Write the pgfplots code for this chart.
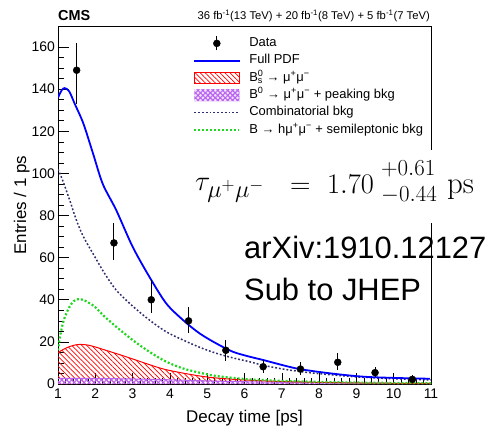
\RequirePackage{fix-cm}
\documentclass[border=0pt]{standalone}
\usepackage[no-math]{fontspec}
\setmainfont{Liberation Sans}
\usepackage{pgfplots}
\pgfplotsset{compat=1.18}
\usetikzlibrary{patterns,patterns.meta}
\DeclareMathSizes{28.5}{28.5}{24.5}{18}
\DeclareMathSizes{23}{23}{17}{13}
\definecolor{pdfblue}{RGB}{0,0,255}
\definecolor{navyc}{RGB}{45,45,110}
\definecolor{greenc}{RGB}{30,215,30}
\definecolor{magc}{RGB}{185,100,240}
\begin{document}
\begin{tikzpicture}[x=1bp,y=1bp]
\path[use as bounding box] (0,0) rectangle (493,427);
\begin{axis}[
  at={(58bp,43bp)}, anchor=south west, scale only axis,
  width=373bp, height=358bp,
  xmin=1, xmax=11, ymin=0, ymax=170,
  xtick={1,2,...,11}, ytick={0,20,...,160},
  minor x tick num=4, minor y tick num=3,
  tick align=inside, xtick pos=left, ytick pos=left,
  major tick length=11bp, minor tick length=6bp,
  tick style={black, line width=0.6bp},
  axis line style={line width=0.8bp},
  /pgf/number format/assume math mode=true,
  ticklabel style={font=\fontsize{14}{14}\selectfont},
  xticklabel style={anchor=north, inner sep=0pt, yshift=-5bp},
  yticklabel style={anchor=east, inner sep=0pt, xshift=-3bp},
  xlabel={Decay time [ps]}, ylabel={Entries / 1 ps},
  label style={font=\fontsize{17}{17}\selectfont},
  xlabel style={at={(axis description cs:0.5,-0.095)}, anchor=center},
  ylabel style={at={(axis description cs:-0.097,0.5)}, anchor=center},
  legend style={at={(rel axis cs:0.354,0.975)}, anchor=north west, draw=none, fill=none,
    row sep=4.8bp, column sep=0pt,
    nodes={font=\fontsize{13}{13}\selectfont, inner sep=0pt, text height=9.5bp, text depth=3bp}},
  legend cell align=left,
]
% legend images
\addlegendimage{legend image code/.code={\path[draw=none,fill=none] (0,-6bp) rectangle (55bp,6bp);
  \draw[black, line width=1bp, overlay] (22.5bp,-7bp)--(22.5bp,7bp);
  \fill[black] (22.5bp,0) circle (3.5bp);}}
\addlegendentry{Data}
\addlegendimage{legend image code/.code={\path[draw=none,fill=none] (0,-6bp) rectangle (55bp,6bp);
  \fill[pdfblue] (0,-0.9bp) rectangle (45bp,0.9bp);}}
\addlegendentry{Full PDF}
\addlegendimage{legend image code/.code={\path[draw=none,fill=none] (0,-6bp) rectangle (55bp,6bp);
  \draw[red, line width=0.8bp, pattern={Lines[angle=-45,distance=3.5bp,line width=0.7bp]}, pattern color=red] (0,-5.5bp) rectangle (45bp,5.5bp);}}
\addlegendentry{B\rlap{\textsuperscript{0}}\textsubscript{s} → μ\textsuperscript{+}μ\textsuperscript{−}}
\addlegendimage{legend image code/.code={\path[draw=none,fill=none] (0,-6bp) rectangle (55bp,6bp);
  \fill[magc!20] (0,-5.5bp) rectangle (45bp,5.5bp);
  \path[draw=none, pattern={Hatch[angle=45,distance=3.5bp,line width=1.1bp]}, pattern color=magc] (0,-5.5bp) rectangle (45bp,5.5bp);}}
\addlegendentry{B\textsuperscript{0} → μ\textsuperscript{+}μ\textsuperscript{−} + peaking bkg}
\addlegendimage{legend image code/.code={\path[draw=none,fill=none] (0,-6bp) rectangle (55bp,6bp);
  \draw[navyc, line width=1.5bp, dash pattern=on 1.8bp off 2bp] (0,0)--(45bp,0);}}
\addlegendentry{Combinatorial bkg}
\addlegendimage{legend image code/.code={\path[draw=none,fill=none] (0,-6bp) rectangle (55bp,6bp);
  \draw[greenc, line width=2.2bp, dash pattern=on 2bp off 2bp] (0,0)--(45bp,0);}}
\addlegendentry{B → hμ\textsuperscript{+}μ\textsuperscript{−} + semileptonic bkg}

% B_s -> mumu (red hatched)
\addplot[forget plot, draw=none, smooth, pattern={Lines[angle=-45,distance=3.5bp,line width=0.7bp]}, pattern color=red] coordinates {
(1.0,14.9)(1.15,16.5)(1.3,17.7)(1.45,18.5)(1.6,18.8)(1.8,18.5)(2.0,17.6)(2.25,16.2)(2.5,14.8)(2.75,13.4)(3.0,11.9)(3.25,10.4)(3.5,8.9)(3.75,7.5)(4.0,6.4)(4.5,4.7)(5.0,3.3)(5.5,2.5)(6.0,1.9)(7.0,1.2)(8.0,0.8)(9.0,0.5)(10.0,0.35)(11.0,0.25)
} \closedcycle;
% B0 -> mumu + peaking (magenta crosshatch)
\addplot[forget plot, draw=none, smooth, pattern={Hatch[angle=45,distance=3.5bp,line width=1.1bp]}, pattern color=magc] coordinates {
(1.0,2.7)(2.0,2.6)(3.0,2.4)(4.0,2.0)(5.0,1.5)(6.0,1.1)(7.0,0.8)(8.0,0.6)(9.0,0.45)(10.0,0.35)(11.0,0.3)
} \closedcycle;
\addplot[forget plot, magc, line width=1bp, smooth] coordinates {
(1.0,2.7)(2.0,2.6)(3.0,2.4)(4.0,2.0)(5.0,1.5)(6.0,1.1)(7.0,0.8)(8.0,0.6)(9.0,0.45)(10.0,0.35)(11.0,0.3)
};
\addplot[forget plot, red, line width=1bp, smooth] coordinates {
(1.0,14.9)(1.15,16.5)(1.3,17.7)(1.45,18.5)(1.6,18.8)(1.8,18.5)(2.0,17.6)(2.25,16.2)(2.5,14.8)(2.75,13.4)(3.0,11.9)(3.25,10.4)(3.5,8.9)(3.75,7.5)(4.0,6.4)(4.5,4.7)(5.0,3.3)(5.5,2.5)(6.0,1.9)(7.0,1.2)(8.0,0.8)(9.0,0.5)(10.0,0.35)(11.0,0.25)
};
% semileptonic (green dotted)
\addplot[forget plot, greenc, line width=2.2bp, dash pattern=on 2bp off 2bp, smooth] coordinates {
(1.0,16)(1.05,22)(1.13,28.8)(1.2,32.5)(1.31,36.7)(1.42,39.3)(1.54,40.3)(1.7,39.8)(1.85,38.3)(2.0,36.5)(2.25,32)(2.56,27.2)(3.0,20.9)(3.45,15.3)(3.9,10.6)(4.35,7.4)(4.79,5.4)(5.24,3.8)(5.7,2.9)(6.13,2.2)(7.0,1.5)(8.0,1.0)(9.0,0.7)(10.0,0.5)(11.0,0.4)
};
% combinatorial (navy dotted)
\addplot[forget plot, navyc, line width=1.5bp, dash pattern=on 1.8bp off 2bp, smooth] coordinates {
(1.0,102)(1.13,96.5)(1.3,88)(1.5,77.5)(1.68,70)(2.0,60)(2.25,52.5)(2.56,44.6)(3.0,37)(3.45,30.4)(3.9,24.8)(4.35,20.9)(4.79,17.5)(5.24,14.6)(5.69,12.4)(6.13,10.6)(6.5,8.9)(7.0,7.2)(7.5,5.9)(8.0,4.9)(8.5,4.1)(9.0,3.4)(9.5,2.9)(10.0,2.5)(10.5,2.2)(11.0,1.9)
};
% full PDF (blue)
\addplot[forget plot, pdfblue, line width=1.8bp, smooth] coordinates {
(1.0,136)(1.1,139.5)(1.18,140.5)(1.3,139)(1.45,133)(1.68,123.7)(1.94,109.4)(2.2,95)(2.56,82.6)(3.0,65.2)(3.45,50.9)(3.9,38.3)(4.35,30.4)(4.79,24.1)(5.24,19.3)(5.69,15.3)(6.13,13.0)(6.5,11.4)(7.39,7.4)(8.28,5.1)(9.17,3.5)(10.0,2.9)(10.97,2.5)
};
% data
\addplot[forget plot, only marks, mark=*, mark size=3.5bp, black,
  error bars/.cd, y dir=both, y explicit, error mark=none,
  error bar style={line width=1bp, black}] coordinates {
(1.5,149) += (0,13) -= (0,16)
(2.5,67) += (0,9.6) -= (0,8)
(3.5,40) += (0,9.5) -= (0,6.5)
(4.5,30) += (0,6.7) -= (0,5.7)
(5.5,16) += (0,5) -= (0,5)
(6.5,8.2) += (0,3.2) -= (0,3)
(7.5,7.1) += (0,3.5) -= (0,2.8)
(8.5,10.3) += (0,4.4) -= (0,3.7)
(9.5,5.4) += (0,2.8) -= (0,2.2)
(10.5,2.2) += (0,2.1) -= (0,1.6)
};
\end{axis}
% annotations
\node[anchor=west, inner sep=0pt, font=\fontsize{14.5}{14.5}\selectfont\bfseries] at (58,411) {CMS};
\node[anchor=east, inner sep=0pt, font=\fontsize{11.3}{11.3}\selectfont] at (430,411)
  {36 fb\textsuperscript{-1}(13 TeV) + 20 fb\textsuperscript{-1}(8 TeV) + 5 fb\textsuperscript{-1}(7 TeV)};
\fill[white] (185,204) rectangle (493,277);
\node[anchor=base west, inner sep=0pt, font=\fontsize{28.5}{28.5}\selectfont] at (195,237) {$\tau_{\mu^+\mu^-}$};
\node[anchor=base west, inner sep=0pt, font=\fontsize{28.5}{28.5}\selectfont] at (290,234) {$=$};
\node[anchor=base west, inner sep=0pt, font=\fontsize{28.5}{28.5}\selectfont] at (327,234) {$1.70$};
\node[anchor=base west, inner sep=0pt, font=\fontsize{23}{23}\selectfont] at (381,252) {$+0.61$};
\node[anchor=base west, inner sep=0pt, font=\fontsize{23}{23}\selectfont] at (381,226) {$-0.44$};
\node[anchor=base west, inner sep=0pt, font=\fontsize{31}{31}\selectfont] at (447,234) {$\mathrm{ps}$};
\node[anchor=base west, inner sep=0pt, font=\fontsize{31}{31}\selectfont] at (244,168.7) {arXiv:1910.12127};
\node[anchor=base west, inner sep=0pt, font=\fontsize{31}{31}\selectfont] at (244,126.5) {Sub to JHEP};
\end{tikzpicture}
\end{document}
